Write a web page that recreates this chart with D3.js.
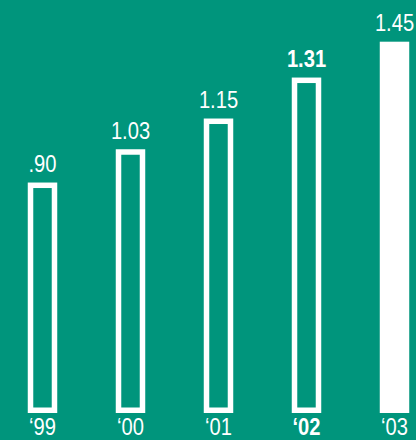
<!DOCTYPE html>
<html>
<head>
<meta charset="utf-8">
<script src="https://cdn.jsdelivr.net/npm/d3@7"></script>
<style>
  html, body { margin: 0; padding: 0; background: #00957c; }
  svg { display: block; }
  text { font-family: "Liberation Sans Narrow", "Liberation Sans", Arial, sans-serif; fill: #fff; }
</style>
</head>
<body>
<svg id="chart" width="416" height="440"></svg>
<script>
// Annual values by year
const years = ["\u201899", "\u201800", "\u201801", "\u201802", "\u201803"];
const values = [0.90, 1.03, 1.15, 1.31, 1.45];
const valueLabels = [".90", "1.03", "1.15", "1.31", "1.45"];
// Emphasis for the current year, solid fill for the projected year
const boldFlags = [false, false, false, true, false];
const solidFlags = [false, false, false, false, true];

const W = 416, H = 440;
const bg = "#00957c";
const stroke = 5.5;
const squeeze = 0.84;

const svg = d3.select("#chart");

const x = d3.scaleBand()
  .domain(years)
  .range([-1.5, 438.5])
  .paddingInner(0.665)
  .paddingOuter(0.3325);

const y = d3.scaleLinear()
  .domain([0, 1.45])
  .range([413, 41.7]);

const data = years.map((yr, i) => ({
  yr, v: values[i], label: valueLabels[i], bold: boldFlags[i], solid: solidFlags[i]
}));

const g = svg.append("g");

// Outer white bar
g.selectAll("rect.outer")
  .data(data)
  .join("rect")
  .attr("class", "outer")
  .attr("x", d => x(d.yr))
  .attr("y", d => y(d.v))
  .attr("width", x.bandwidth())
  .attr("height", d => y(0) - y(d.v))
  .attr("fill", "#fff");

// Hollow interior for outlined bars
g.selectAll("rect.inner")
  .data(data.filter(d => !d.solid))
  .join("rect")
  .attr("class", "inner")
  .attr("x", d => x(d.yr) + stroke)
  .attr("y", d => y(d.v) + stroke)
  .attr("width", x.bandwidth() - 2 * stroke)
  .attr("height", d => y(0) - y(d.v) - 2 * stroke)
  .attr("fill", bg);

// Value labels above bars
g.selectAll("text.val")
  .data(data)
  .join("text")
  .attr("class", "val")
  .attr("text-anchor", "middle")
  .attr("font-size", 24)
  .attr("font-weight", d => d.bold ? "bold" : "normal")
  .attr("transform", d => `translate(${x(d.yr) + x.bandwidth() / 2},${y(d.v) - 10.5}) scale(${squeeze},1)`)
  .text(d => d.label);

// Year labels along the bottom
g.selectAll("text.yr")
  .data(data)
  .join("text")
  .attr("class", "yr")
  .attr("text-anchor", "middle")
  .attr("font-size", 24)
  .attr("font-weight", d => d.bold ? "bold" : "normal")
  .attr("transform", d => `translate(${x(d.yr) + x.bandwidth() / 2},435) scale(${squeeze},1)`)
  .text(d => d.yr);
</script>
</body>
</html>
